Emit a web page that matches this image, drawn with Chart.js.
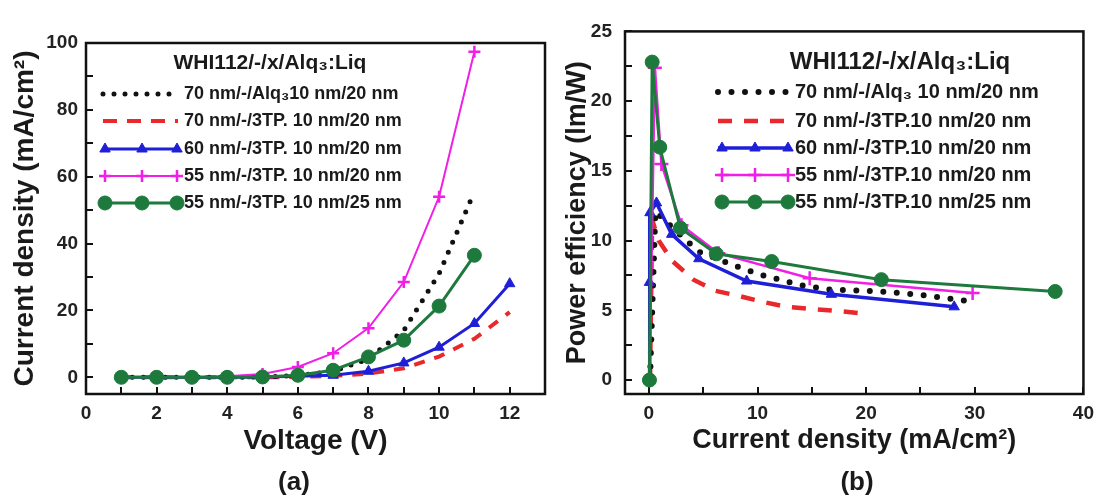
<!DOCTYPE html>
<html><head><meta charset="utf-8">
<script src="https://cdn.jsdelivr.net/npm/chart.js@4.4.1/dist/chart.umd.min.js"></script>
<style>
html,body{margin:0;padding:0;background:#fff;width:1109px;height:498px;overflow:hidden;}
#ca{position:absolute;left:0;top:0;}
#cb{position:absolute;left:560px;top:0;}
.lab{position:absolute;font:bold 26px "Liberation Sans",Arial,sans-serif;color:#1a1a1a;transform:translate(-50%,-50%);}
</style></head><body>
<canvas id="ca" width="560" height="498"></canvas>
<canvas id="cb" width="549" height="498"></canvas>
<div class="lab" style="left:294px;top:481px">(a)</div>
<div class="lab" style="left:857px;top:481px">(b)</div>
<script>
// ---------- data: panel (a) J–V ----------
const voltage     = [1, 2, 3, 4, 5, 6, 7, 8, 9, 10, 11, 12];
const jvAlq3_70   = [0, 0, 0, 0, 0.1, 0.5, 1.8, 5.5, 14, 31, 55.5, null];
const jv3TP_70    = [0, 0, 0, 0, 0, 0.1, 0.4, 1.1, 2.7, 6.2, 11.5, 19.5];
const jv3TP_60    = [0, 0, 0, 0, 0.1, 0.3, 0.6, 1.8, 4.3, 9, 16.1, 28];
const jv3TP_55_20 = [0, 0, 0, 0.3, 1.0, 3.1, 7.2, 14.7, 28.5, 54, 97.4, null];
const jv3TP_55_25 = [0, 0, 0, 0, 0.1, 0.6, 2.1, 6.1, 11.1, 21.3, 36.5, null];

// ---------- data: panel (b) PE vs J ----------
const jAlq3_70   = [0.1, 0.6, 1.8, 3.6, 4.6, 7.9, 10.3, 14.0, 16.5, 21.4, 25.1, 29.1];
const peAlq3_70  = [0, 12.1, 11.2, 9.9, 9.2, 8.2, 7.55, 6.8, 6.5, 6.35, 6.1, 5.7];
const j3TP_70    = [0.1, 0.3, 0.9, 2.2, 4.1, 6.1, 8.2, 10.5, 12.7, 15.0, 17.4, 20.0];
const pe3TP_70   = [0, 11.5, 10.0, 8.5, 7.2, 6.4, 6.05, 5.6, 5.25, 5.1, 4.95, 4.75];
const j3TP_60    = [0.02, 0.05, 0.1, 0.7, 2.1, 4.6, 9.0, 16.8, 28.1];
const pe3TP_60   = [0, 7.0, 12.0, 12.7, 10.45, 8.7, 7.1, 6.15, 5.25];
const j3TP_55_20 = [0.05, 0.55, 1.15, 3.0, 6.4, 14.8, 29.8];
const pe3TP_55_20= [0, 22.4, 15.5, 11.1, 9.1, 7.3, 6.25];
const j3TP_55_25 = [0.05, 0.3, 1.0, 2.9, 6.2, 11.3, 21.4, 37.4];
const pe3TP_55_25= [0, 22.8, 16.7, 10.9, 9.05, 8.5, 7.2, 6.35];

// ---------- text ----------
const legendTitle = 'WHI112/-/x/Alq₃:Liq';
const labelsA = ['70 nm/-/Alq₃10 nm/20 nm', '70 nm/-/3TP. 10 nm/20 nm', '60 nm/-/3TP. 10 nm/20 nm', '55 nm/-/3TP. 10 nm/20 nm', '55 nm/-/3TP. 10 nm/25 nm'];
const labelsB = ['70 nm/-/Alq₃ 10 nm/20 nm', '70 nm/-/3TP.10 nm/20 nm', '60 nm/-/3TP.10 nm/20 nm', '55 nm/-/3TP.10 nm/20 nm', '55 nm/-/3TP.10 nm/25 nm'];
const titleXA = 'Voltage (V)', titleYA = 'Current density (mA/cm²)';
const titleXB = 'Current density (mA/cm²)', titleYB = 'Power efficiency (lm/W)';
const ticksXA = [0, 2, 4, 6, 8, 10, 12];
const ticksYA = [0, 20, 40, 60, 80, 100];
const ticksXB = [0, 10, 20, 30, 40];
const ticksYB = [0, 5, 10, 15, 20, 25];

const FAM = '"Liberation Sans", Arial, Helvetica, sans-serif';
const C = {black:'#111111', red:'#e8282a', blue:'#1f1fd8', mag:'#f01ee6', green:'#1d7a3c'};

function pairs(xs, ys){ const out=[]; for(let i=0;i<xs.length;i++){ if(ys[i]!==null) out.push({x:xs[i], y:ys[i]}); } return out; }

const framePlugin = {
  id:'frame',
  afterDatasetsDraw(chart){
    const {ctx, chartArea:a} = chart;
    ctx.save(); ctx.strokeStyle='#111'; ctx.lineWidth=2.5;
    ctx.strokeRect(a.left, a.top, a.right-a.left, a.bottom-a.top);
    ctx.restore();
  }
};

function makeLegend(o){
  return {
    id:'insideLegend',
    afterDraw(chart){
      const ctx = chart.ctx;
      ctx.save();
      ctx.fillStyle = '#1a1a1a'; ctx.textAlign='center'; ctx.textBaseline='middle';
      ctx.font = o.titleFont;
      ctx.fillText(o.title, o.titleX, o.titleY);
      chart.data.datasets.forEach((ds, i) => {
        const y = o.rowY[i];
        ctx.save();
        ctx.strokeStyle = ds.borderColor; ctx.lineWidth = o.lw[i];
        ctx.setLineDash(o.dash[i]); ctx.lineCap = ds.borderCapStyle || 'butt';
        ctx.beginPath(); ctx.moveTo(o.lineX0, y); ctx.lineTo(o.lineX1, y); ctx.stroke();
        ctx.setLineDash([]); ctx.lineCap='butt';
        if (ds.pointRadius > 0) {
          ctx.fillStyle = ds.pointBackgroundColor; ctx.strokeStyle = ds.borderColor;
          ctx.lineWidth = ds.pointBorderWidth || 1;
          o.markX.forEach(x => Chart.helpers.drawPoint(ctx, {pointStyle: ds.pointStyle, radius: ds.pointRadius, rotation: 0, borderWidth: ds.pointBorderWidth || 1}, x, y));
        }
        ctx.restore();
        ctx.fillStyle = '#1a1a1a'; ctx.textAlign='left'; ctx.textBaseline='middle';
        ctx.font = o.font;
        ctx.fillText(o.labels[i], o.textX, y);
      });
      ctx.restore();
    }
  };
}

function axis(opts){
  return {
    type:'linear', min:opts.min, max:opts.max, position:opts.pos,
    afterFit: opts.fit,
    border:{display:false},
    grid:{display:true, drawOnChartArea:false, drawTicks:true, tickLength:-7, color:'#111', lineWidth:2},
    ticks:{stepSize:opts.step, maxTicksLimit:1000, autoSkip:false, includeBounds:false, maxRotation:0, minRotation:0,
      padding:opts.pad, color:'#222', font:{family:FAM, weight:'bold', size:19},
      callback:(v)=> opts.labels.some(t=>Math.abs(t-v)<1e-9) ? String(Math.round(v)) : ''},
    title:{display:true, text:opts.title, color:'#1a1a1a', font:{family:FAM, weight:'bold', size:opts.tsize}, padding:opts.tpad}
  };
}

// ---------- panel (a) ----------
new Chart(document.getElementById('ca'), {
  type:'line',
  data:{ datasets:[
    {label:labelsA[0], data:pairs(voltage, jvAlq3_70), borderColor:C.black, borderWidth:5, borderDash:[0,11], borderCapStyle:'round', pointRadius:0, order:4},
    {label:labelsA[1], data:pairs(voltage, jv3TP_70), borderColor:C.red, borderWidth:4, borderDash:[11,10], pointRadius:0, order:5},
    {label:labelsA[2], data:pairs(voltage, jv3TP_60), borderColor:C.blue, borderWidth:3, pointStyle:'triangle', pointRadius:6, pointBackgroundColor:C.blue, pointBorderColor:C.blue, pointBorderWidth:1, order:3},
    {label:labelsA[3], data:pairs(voltage, jv3TP_55_20), borderColor:C.mag, borderWidth:2, pointStyle:'cross', pointRadius:6, pointBackgroundColor:C.mag, pointBorderColor:C.mag, pointBorderWidth:2.5, order:2},
    {label:labelsA[4], data:pairs(voltage, jv3TP_55_25), borderColor:C.green, borderWidth:3, pointStyle:'circle', pointRadius:7, pointBackgroundColor:C.green, pointBorderColor:C.green, pointBorderWidth:1, order:1}
  ]},
  options:{
    responsive:false, animation:false, devicePixelRatio:1,
    layout:{padding:{left:0, right:10, top:43, bottom:0}},
    plugins:{legend:{display:false}, tooltip:{enabled:false}},
    elements:{line:{tension:0}},
    scales:{
      x: axis({min:0, max:13, pos:'bottom', step:1, labels:ticksXA, pad:15, title:titleXA, tsize:28, tpad:{top:0, bottom:40}, fit:(s)=>{s.height=104;}}),
      y: axis({min:-5, max:100, pos:'left', step:10, labels:ticksYA, pad:15, title:titleYA, tsize:28, tpad:{top:8, bottom:0}, fit:(s)=>{s.width=86;}})
    }
  },
  plugins:[framePlugin, makeLegend({
    title:legendTitle, titleFont:'bold 21px '+FAM, titleX:270, titleY:63,
    rowY:[94,121,149,176,203], lineX0:103, lineX1:178, markX:[105,142,177], textX:184,
    font:'bold 18px '+FAM, labels:labelsA,
    lw:[5,4,3,2,3], dash:[[0,11],[14,10],[],[],[]]
  })]
});

// ---------- panel (b) ----------
new Chart(document.getElementById('cb'), {
  type:'line',
  data:{ datasets:[
    {label:labelsB[0], data:pairs(jAlq3_70, peAlq3_70), borderColor:C.black, borderWidth:6, borderDash:[0,13.5], borderCapStyle:'round', pointRadius:0, order:4},
    {label:labelsB[1], data:pairs(j3TP_70, pe3TP_70), borderColor:C.red, borderWidth:4.5, borderDash:[14,12], pointRadius:0, order:5},
    {label:labelsB[2], data:pairs(j3TP_60, pe3TP_60), borderColor:C.blue, borderWidth:3.5, pointStyle:'triangle', pointRadius:6, pointBackgroundColor:C.blue, pointBorderColor:C.blue, pointBorderWidth:1, order:3},
    {label:labelsB[3], data:pairs(j3TP_55_20, pe3TP_55_20), borderColor:C.mag, borderWidth:2.5, pointStyle:'cross', pointRadius:7, pointBackgroundColor:C.mag, pointBorderColor:C.mag, pointBorderWidth:2.5, order:2},
    {label:labelsB[4], data:pairs(j3TP_55_25, pe3TP_55_25), borderColor:C.green, borderWidth:3, pointStyle:'circle', pointRadius:7, pointBackgroundColor:C.green, pointBorderColor:C.green, pointBorderWidth:1, order:1}
  ]},
  options:{
    responsive:false, animation:false, devicePixelRatio:1,
    layout:{padding:{left:0, right:14, top:22, bottom:0}},
    plugins:{legend:{display:false}, tooltip:{enabled:false}},
    elements:{line:{tension:0}},
    scales:{
      x: axis({min:-2.2, max:40, pos:'bottom', step:5, labels:ticksXB, pad:15, title:titleXB, tsize:27, tpad:{top:0, bottom:41}, fit:(s)=>{s.height=104;}}),
      y: axis({min:-1, max:25, pos:'left', step:2.5, labels:ticksYB, pad:20, title:titleYB, tsize:27, tpad:{top:1, bottom:0}, fit:(s)=>{s.width=65;}})
    }
  },
  plugins:[framePlugin, makeLegend({
    title:legendTitle, titleFont:'bold 24px '+FAM, titleX:340, titleY:62,
    rowY:[92,121,148,175,202], lineX0:158, lineX1:230, markX:[162,195,228], textX:235,
    font:'bold 20px '+FAM, labels:labelsB,
    lw:[6,4.5,3.5,2.5,3], dash:[[0,13.5],[14,12],[],[],[]]
  })]
});
</script>
</body></html>
